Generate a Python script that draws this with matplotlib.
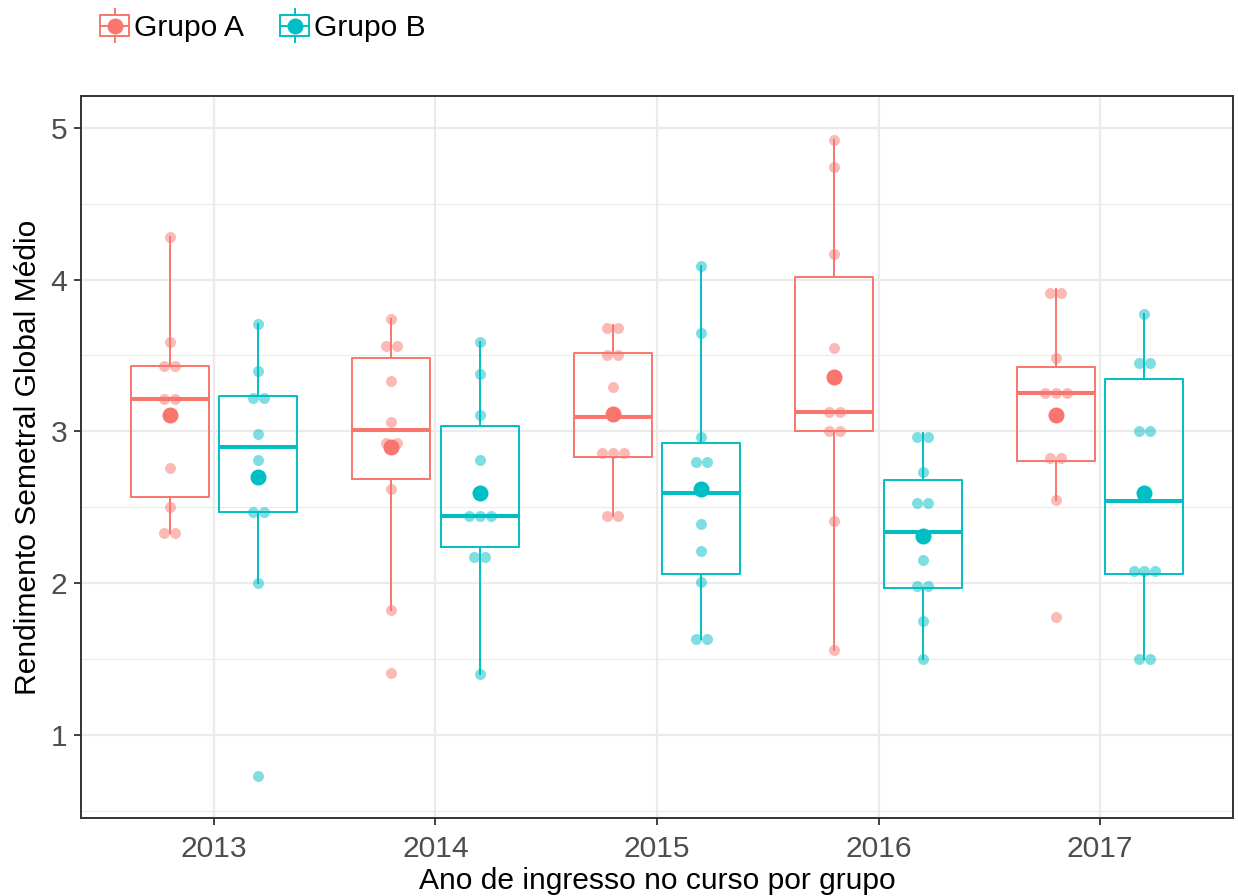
import numpy as np
import matplotlib.pyplot as plt
from matplotlib.legend_handler import HandlerBase
from matplotlib.patches import Rectangle
from matplotlib.lines import Line2D

plt.rcParams['font.family'] = ['Liberation Sans', 'DejaVu Sans']

anos = ['2013', '2014', '2015', '2016', '2017']

grupo_a = [
    [4.28, 3.59, 3.43, 3.43, 3.21, 3.21, 2.76, 2.50, 2.33, 2.33],
    [3.74, 3.60, 3.53, 3.33, 3.06, 2.96, 2.88, 2.62, 1.82, 1.41],
    [3.70, 3.66, 3.53, 3.47, 3.29, 2.90, 2.86, 2.82, 2.44, 2.44],
    [4.92, 4.74, 4.17, 3.55, 3.13, 3.13, 3.00, 3.00, 2.41, 1.56],
    [3.94, 3.88, 3.48, 3.255, 3.255, 3.255, 2.86, 2.79, 2.55, 1.78],
]
grupo_b = [
    [3.71, 3.40, 3.25, 3.19, 2.98, 2.81, 2.47, 2.47, 2.00, 0.73],
    [3.59, 3.38, 3.11, 2.81, 2.44, 2.44, 2.44, 2.17, 2.17, 1.40],
    [4.09, 3.65, 2.96, 2.80, 2.80, 2.39, 2.21, 2.01, 1.63, 1.63],
    [2.99, 2.94, 2.73, 2.53, 2.53, 2.15, 2.01, 1.95, 1.75, 1.50],
    [3.77, 3.45, 3.45, 3.03, 2.97, 2.11, 2.08, 2.05, 1.50, 1.50],
]

grupos = ['Grupo A', 'Grupo B']
cores = ['#F8766D', '#00BFC4']


class BoxPointHandler(HandlerBase):
    def create_artists(self, legend, orig_handle, xdescent, ydescent,
                       width, height, fontsize, trans):
        c = orig_handle.get_color()
        x0, y0 = -xdescent, -ydescent
        cx, cy = x0 + width / 2, y0 + height / 2
        lw = 1.4
        box = Rectangle((x0, y0 + 0.17 * height), width, 0.66 * height,
                        facecolor='white', edgecolor=c, lw=lw, transform=trans)
        med = Line2D([x0, x0 + width], [cy, cy], color=c, lw=lw, transform=trans)
        w1 = Line2D([cx, cx], [y0, y0 + 0.17 * height], color=c, lw=lw, transform=trans)
        w2 = Line2D([cx, cx], [y0 + 0.83 * height, y0 + height], color=c, lw=lw, transform=trans)
        pt = Line2D([cx], [cy], marker='o', markersize=11.5, color=c,
                    markeredgewidth=0, transform=trans)
        return [box, med, w1, w2, pt]


def dotdensity(vals, binwidth=0.085, step=0.049):
    # agrupa valores proximos (como geom_dotplot) e empilha lado a lado
    vals = np.sort(np.asarray(vals))
    xs, ys = [], []
    i = 0
    while i < len(vals):
        j = i
        while j + 1 < len(vals) and vals[j + 1] - vals[i] < binwidth:
            j += 1
        k = j - i + 1
        centro = (vals[i] + vals[j]) / 2
        xs.extend((np.arange(k) - (k - 1) / 2) * step)
        ys.extend([centro] * k)
        i = j + 1
    return np.array(xs), np.array(ys)


fig = plt.figure(figsize=(12.38, 8.96), dpi=100)
ax = fig.add_axes([81 / 1238, 78 / 896, 1152 / 1238, 722 / 896])

x = np.arange(len(anos))
deslocamentos = [-0.2, 0.2]
handles = []

for dados, cor, desl, nome in zip([grupo_a, grupo_b], cores, deslocamentos, grupos):
    pos = x + desl
    ax.boxplot(dados, positions=pos, widths=0.352, whis=1.5, showfliers=False,
               showcaps=False, manage_ticks=False,
               boxprops=dict(color=cor, lw=1.4),
               whiskerprops=dict(color=cor, lw=1.4),
               medianprops=dict(color=cor, lw=2.9, solid_capstyle='butt'),
               zorder=2)
    for p, vals in zip(pos, dados):
        dx, ys = dotdensity(vals)
        ax.scatter(p + dx, ys, s=63, color=cor, alpha=0.5, linewidths=0, zorder=3)
        ax.scatter([p], [np.mean(vals)], s=133, color=cor, linewidths=0, zorder=4)
    handles.append(Line2D([], [], color=cor, label=nome))

ax.set_xlim(-0.6, 4.6)
ax.set_ylim(0.453, 5.209)
ax.set_xticks(x)
ax.set_xticklabels(anos)
ax.set_yticks([1, 2, 3, 4, 5])
ax.set_yticks([0.5, 1.5, 2.5, 3.5, 4.5], minor=True)

ax.grid(True, which='major', color='#EBEBEB', lw=1.6, zorder=0)
ax.grid(True, which='minor', axis='y', color='#EBEBEB', lw=0.8, zorder=0)
ax.set_axisbelow(True)

for s in ax.spines.values():
    s.set_color('#333333')
    s.set_linewidth(1.4)

ax.tick_params(which='major', length=5, width=1.3, color='#333333',
               labelcolor='#4D4D4D', labelsize=21.6, pad=5)
ax.tick_params(axis='x', pad=7)
ax.tick_params(which='minor', length=0)

ax.set_xlabel('Ano de ingresso no curso por grupo', fontsize=21.6, labelpad=3)
ax.set_ylabel('Rendimento Semetral Global Médio', fontsize=21.6, labelpad=6)

fig.legend(handles=handles, labels=grupos, loc='upper left',
           bbox_to_anchor=(100 / 1238, 1 - 9 / 896), bbox_transform=fig.transFigure,
           ncol=2, frameon=False, fontsize=21.6, borderpad=0, borderaxespad=0,
           handlelength=0.97, handleheight=1.32, handletextpad=0.17,
           columnspacing=1.2, handler_map={Line2D: BoxPointHandler()})

fig.savefig('out.png', dpi=100)
